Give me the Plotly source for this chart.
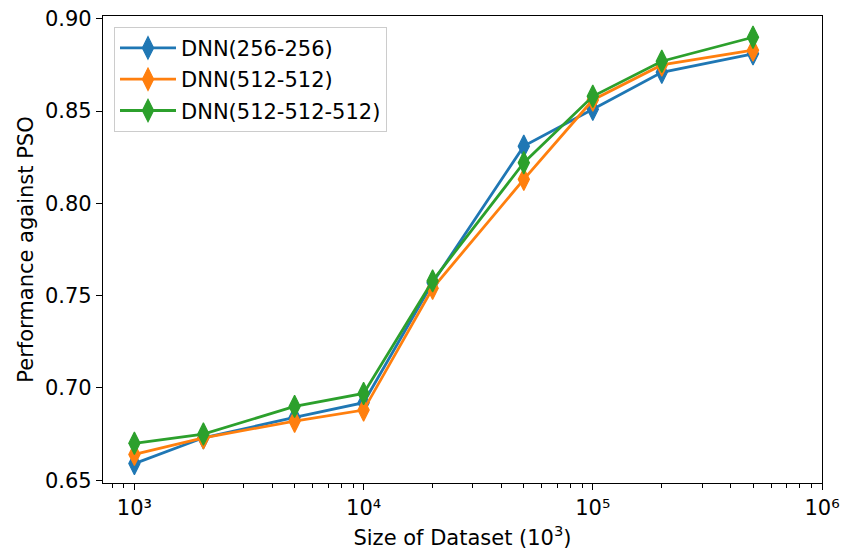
import plotly.graph_objects as go

sizes = [1e3, 2e3, 5e3, 1e4, 2e4, 5e4, 1e5, 2e5, 5e5]
dnn_256_256 = [0.659, 0.673, 0.684, 0.692, 0.757, 0.831, 0.851, 0.871, 0.881]
dnn_512_512 = [0.664, 0.673, 0.682, 0.688, 0.754, 0.813, 0.856, 0.875, 0.883]
dnn_512_512_512 = [0.670, 0.675, 0.690, 0.697, 0.758, 0.822, 0.858, 0.877, 0.890]
series_names = ["DNN(256-256)", "DNN(512-512)", "DNN(512-512-512)"]
colors = ["#1f77b4", "#ff7f0e", "#2ca02c"]
x_tickvals = [1e3, 1e4, 1e5, 1e6]
x_ticktext = ["10³", "10⁴", "10⁵", "10⁶"]
y_tickvals = [0.65, 0.70, 0.75, 0.80, 0.85, 0.90]

# minor log ticks (2..9 within each decade shown)
x_minor = [m * 10 ** d for d in range(2, 6) for m in range(2, 10) if 730 <= m * 10 ** d <= 1e6]

font = dict(family="DejaVu Sans", size=21, color="black")

fig = go.Figure()
for i, (name, vals) in enumerate(zip(series_names, [dnn_256_256, dnn_512_512, dnn_512_512_512])):
    fig.add_trace(go.Scatter(
        x=sizes, y=vals, name=name, mode="lines+markers",
        legendgroup=name,
        line=dict(color=colors[i], width=2.8),
        marker=dict(symbol="diamond-tall", size=16, color=colors[i],
                    line=dict(color=colors[i], width=1.2)),
    ))

fig.update_layout(
    width=842, height=552,
    margin=dict(l=103, r=20, t=16, b=69),
    paper_bgcolor="white", plot_bgcolor="white",
    font=font,
    showlegend=True,
    legend=dict(x=0.0153, y=0.977, xanchor="left", yanchor="top",
                bgcolor="rgba(255,255,255,0.8)", bordercolor="#cccccc", borderwidth=1,
                font=font, tracegroupgap=1, itemwidth=56),
)
fig.update_xaxes(
    type="log", range=[2.863, 6.0], automargin=False,
    tickvals=x_tickvals, ticktext=x_ticktext,
    ticks="outside", ticklen=6, tickwidth=1.2, tickcolor="black",
    minor=dict(tickvals=x_minor, ticks="outside", ticklen=3.5, tickwidth=1,
               tickcolor="black", showgrid=False),
    showline=True, mirror=True, linecolor="black", linewidth=1.3,
    showgrid=False, zeroline=False,
    title=dict(text="Size of Dataset (10<sup>3</sup>)", font=font, standoff=10),
)
fig.update_yaxes(
    range=[0.6485, 0.9015], automargin=False,
    tickvals=y_tickvals, tickformat=".2f",
    ticks="outside", ticklen=6, tickwidth=1.2, tickcolor="black",
    showline=True, mirror=True, linecolor="black", linewidth=1.3,
    showgrid=False, zeroline=False,
    title=dict(text="Performance against PSO", font=font, standoff=5),
)

fig.write_html("out.html", config={"displayModeBar": False},
               post_script="document.body.style.margin='0';")
